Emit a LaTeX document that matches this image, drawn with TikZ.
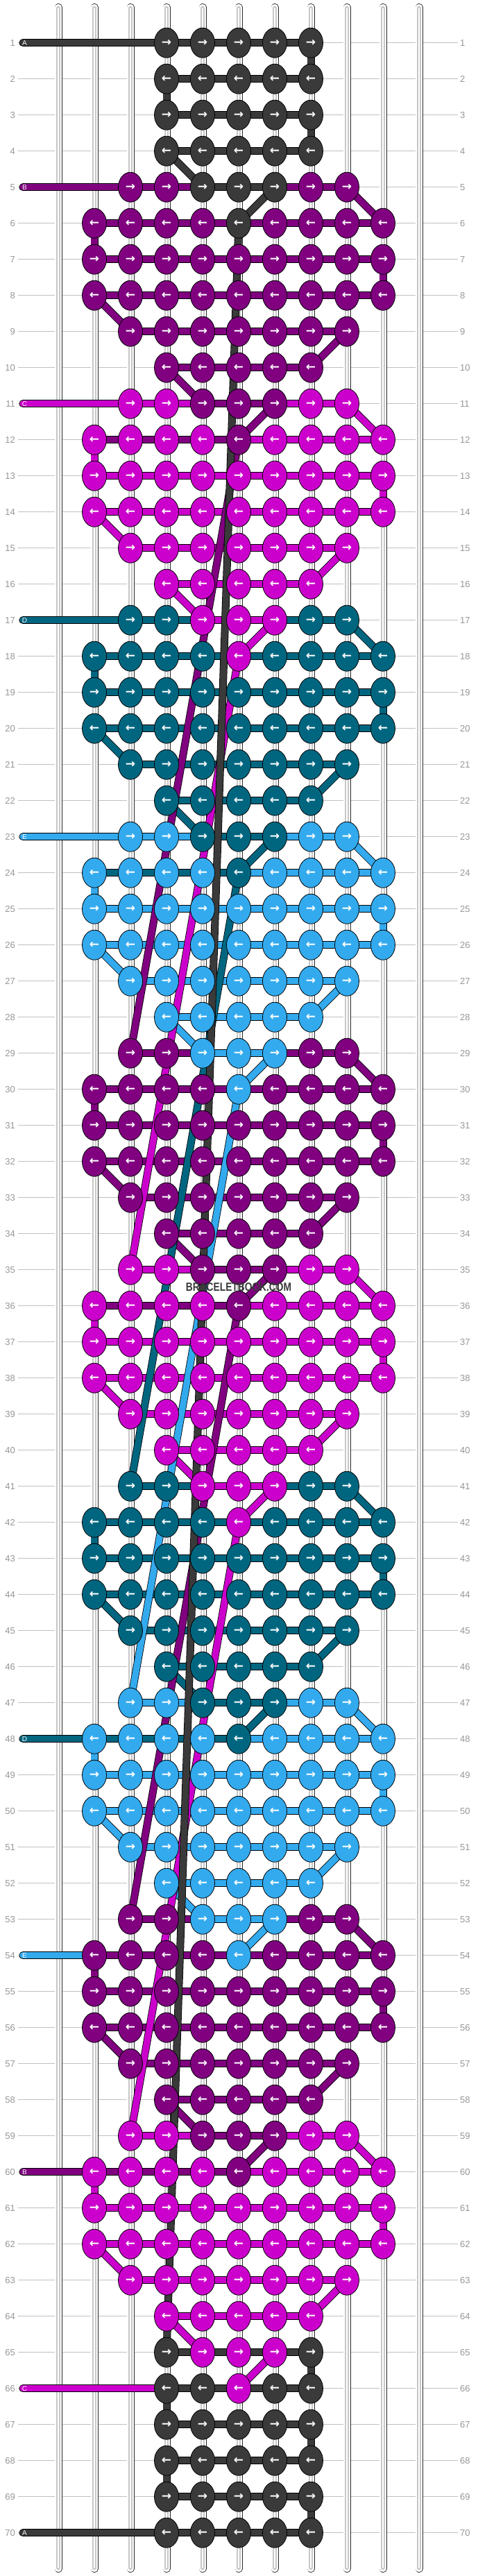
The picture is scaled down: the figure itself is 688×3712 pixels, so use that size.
\documentclass[tikz,border=0pt]{standalone}
\usepackage{fontspec}
\setmainfont{Liberation Sans}
\newfontfamily\arrowfont{DejaVu Sans}
\usetikzlibrary{shapes.geometric}
\definecolor{colA}{RGB}{58,58,58}
\definecolor{colB}{RGB}{128,0,128}
\definecolor{colC}{RGB}{204,0,204}
\definecolor{colD}{RGB}{0,102,128}
\definecolor{colE}{RGB}{51,170,238}
\definecolor{rowgray}{RGB}{192,192,192}
\definecolor{numgray}{RGB}{150,150,150}
\pgfdeclarelayer{back}
\pgfdeclarelayer{mid}
\pgfsetlayers{back,mid,main}

\newcommand\blockcolor[1]{\ifcase#1 colB\or colC\or colD\or colE\or colB\or colC\or colD\or colE\or colB\or colC\or colA\fi}
\newcommand\prevcolor[1]{\ifcase#1 colA\or colB\or colC\or colD\or colE\or colB\or colC\or colD\or colE\or colB\or colC\fi}
\newcommand\rowsetup[1]{%
  \pgfmathsetmacro\yy{9.7+52*#1}%
  \ifnum#1<5 \def\rk{-1}\def\rj{-1}\else
    \pgfmathtruncatemacro\rk{floor((#1-5)/6)}%
    \pgfmathtruncatemacro\rj{#1-5-6*\rk}\fi
  \def\rL{4}\def\rR{8}%
  \ifnum\rk>-1 \ifnum\rk<10
    \ifcase\rj \def\rL{3}\def\rR{9}\or \def\rL{2}\def\rR{10}\or \def\rL{2}\def\rR{10}\or
      \def\rL{2}\def\rR{10}\or \def\rL{3}\def\rR{9}\or \def\rL{4}\def\rR{8}\fi
  \fi\fi
  \ifnum\rk<0 \def\rX{colA}\def\rY{colA}\else
    \edef\rX{\blockcolor{\rk}}\edef\rY{\prevcolor{\rk}}\fi}
\newcommand\knotcolor[1]{\let\knotc\rX
  \ifnum\rj=0 \ifnum#1>4 \ifnum#1<8 \let\knotc\rY\fi\fi\fi
  \ifnum\rj=1 \ifnum#1=6 \let\knotc\rY\fi\fi}
\newcommand\segcolor[1]{\let\segc\rX
  \ifnum\rj=0 \ifnum#1>4 \ifnum#1<7 \ifnum\rk<10 \let\segc\rY\fi\fi\fi\fi
  \ifnum\rj=1 \ifnum#1<6 \ifodd\rk \ifnum\rk<10 \let\segc\rY\fi\fi\fi\fi}

\begin{document}
\begin{tikzpicture}[x=1pt,y=-1pt,
    knot/.style={ellipse,draw=black,line width=0.8pt,fill=#1,minimum width=35pt,
      minimum height=43pt,inner sep=0pt,text=white,font=\arrowfont\bfseries\fontsize{17}{17}\selectfont},
    thread/.style={draw=black,line width=0.8pt,double=#1,double distance=9.4pt,
      shorten <=-4pt,shorten >=-4pt},
    tube/.style={draw=black!85,line width=0.8pt,double=white,double distance=9.4pt,line cap=round},
    tubecore/.style={draw=black!22,line width=2.6pt,double=white,double distance=1.2pt,line cap=round},
    rowline/.style={draw=rowgray,line width=1.1pt},
    rownum/.style={text=numgray,inner sep=0pt,font=\fontsize{13}{13}\selectfont},
    lettr/.style={text=white,inner sep=0pt,font=\fontsize{10}{10}\selectfont}]
\useasboundingbox (0,0) rectangle (688,3712);

% rows and strings
\begin{pgfonlayer}{back}
\foreach \rw in {1,...,70}{
  \pgfmathsetmacro\yy{9.7+52*\rw}
  \draw[rowline] (26,\yy) -- (660,\yy);
  \node[rownum,anchor=east] (numL\rw) at (22,\yy) {\rw};
  \node[rownum,anchor=west] (numR\rw) at (663,\yy) {\rw};
}
\foreach \cl in {1,...,11}{
  \draw[tube] ({32+52*\cl},10.5) -- ({32+52*\cl},3701.5);
  \draw[tubecore] ({32+52*\cl},12) -- ({32+52*\cl},3700);
}
\end{pgfonlayer}

% knots
\foreach \rw in {1,...,70}{
  \rowsetup{\rw}
  \foreach \cl in {\rL,...,\rR}{
    \knotcolor{\cl}
    \node[knot=\knotc] (k\rw-\cl) at ({32+52*\cl},\yy) {\ifodd\rw →\else ←\fi};
  }
}

\begin{pgfonlayer}{mid}
% working threads along the rows
\foreach \rw in {1,...,70}{
  \rowsetup{\rw}
  \pgfmathtruncatemacro\rRm{\rR-1}
  \foreach \cl in {\rL,...,\rRm}{
    \segcolor{\cl}
    \pgfmathtruncatemacro\cn{\cl+1}
    \draw[thread=\segc] (k\rw-\cl) -- (k\rw-\cn);
  }
}
% turns of each colour block
\foreach \b/\clr in {0/colB,1/colC,2/colD,3/colE,4/colB,5/colC,6/colD,7/colE,8/colB,9/colC}{
  \pgfmathtruncatemacro\rA{5+6*\b}
  \pgfmathtruncatemacro\rB{\rA+1}
  \pgfmathtruncatemacro\rC{\rA+2}
  \pgfmathtruncatemacro\rD{\rA+3}
  \pgfmathtruncatemacro\rE{\rA+4}
  \pgfmathtruncatemacro\rF{\rA+5}
  \pgfmathtruncatemacro\rG{\rA+6}
  \pgfmathtruncatemacro\rH{\rA+7}
  \draw[thread=\clr] (k\rA-9) -- (k\rB-10);
  \draw[thread=\clr] (k\rB-2) -- (k\rC-2);
  \draw[thread=\clr] (k\rC-10) -- (k\rD-10);
  \draw[thread=\clr] (k\rD-2) -- (k\rE-3);
  \draw[thread=\clr] (k\rE-9) -- (k\rF-8);
  \draw[thread=\clr] (k\rF-4) -- (k\rG-5);
  \draw[thread=\clr] (k\rG-7) -- (k\rH-6);
}
\draw[thread=colA] (k1-8) -- (k2-8);
\draw[thread=colA] (k2-4) -- (k3-4);
\draw[thread=colA] (k3-8) -- (k4-8);
\draw[thread=colA] (k4-4) -- (k5-5);
\draw[thread=colA] (k5-7) -- (k6-6);
\draw[thread=colA] (k65-8) -- (k66-8);
\draw[thread=colA] (k66-4) -- (k67-4);
\draw[thread=colA] (k67-8) -- (k68-8);
\draw[thread=colA] (k68-4) -- (k69-4);
\draw[thread=colA] (k69-8) -- (k70-8);
% carried threads
\foreach \rs/\clr in {12/colB,18/colC,24/colD,30/colE,36/colB,42/colC}{
  \pgfmathtruncatemacro\rEnd{\rs+17}
  \draw[thread=\clr] (k\rs-6) -- (k\rEnd-3);
}
\draw[thread=colA] (k6-6) -- (k65-4);
% loose ends
\foreach \rw/\clr/\lab/\cl in {1/colA/A/4,5/colB/B/3,11/colC/C/3,17/colD/D/3,23/colE/E/3,
    48/colD/D/2,54/colE/E/2,60/colB/B/2,66/colC/C/4,70/colA/A/4}{
  \pgfmathsetmacro\yy{9.7+52*\rw}
  \coordinate (end\rw) at (33,\yy);
  \draw[thread=\clr,line cap=round,shorten <=0pt] (end\rw) -- (k\rw-\cl);
  \node[lettr] (lab\rw) at (35.5,\yy) {\lab};
}
\end{pgfonlayer}

\node[font=\bfseries\fontsize{17}{17}\selectfont,text=colA,xscale=0.81,inner sep=0pt] (mark) at (344,1855) {BRACELETBOOK.COM};
\end{tikzpicture}
\end{document}
